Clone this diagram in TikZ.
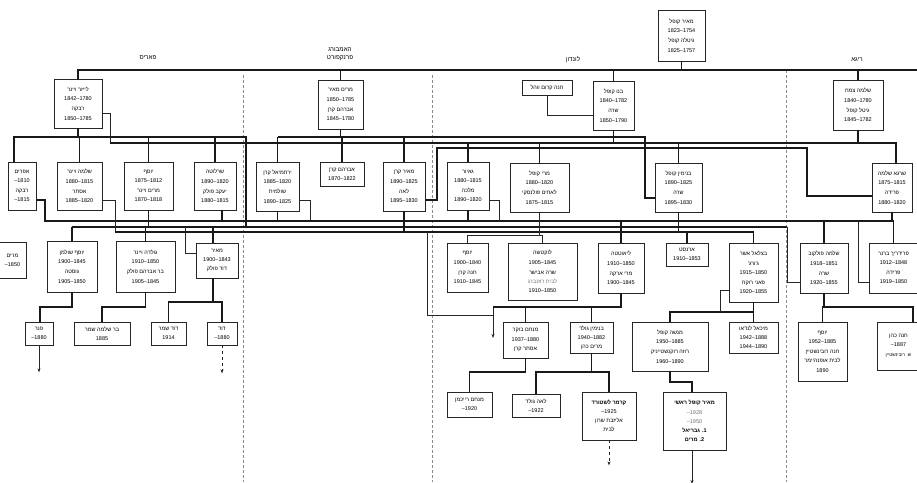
\documentclass[tikz,border=0pt]{standalone}
\usepackage{fontspec}
\usetikzlibrary{arrows.meta}
\newfontfamily\hebfont[Script=Hebrew]{Liberation Sans}
\TeXXeTstate=1
\newcommand\hbt[1]{\beginR #1\endR}
\newcommand\fambox[6]{\node[box, minimum width={(#4-#2)*1pt}, minimum height={(#5-#3)*1pt}] (#1) at ({(#2+#4)/2},{(#3+#5)/2}) {#6};}
\begin{document}
\begin{tikzpicture}[x=1pt,y=-1pt,
  box/.style={draw=black!85, fill=white, line width=0.7pt, inner sep=0.5pt, align=center,
    font=\hebfont\fontsize{5.5}{9.2}\selectfont},
  bus/.style={line width=1.5pt, black!90},
  ln/.style={line width=0.8pt, black!85},
  divider/.style={line width=0.5pt, black!45, dash pattern=on 3pt off 2pt},
  lbl/.style={font=\hebfont\fontsize{6.3}{8.5}\selectfont, align=center, inner sep=0.5pt},
  >={Stealth[length=4pt,width=3pt]}]
\useasboundingbox (0,0) rectangle (917,482);
\fill[white] (0,0) rectangle (917,482);
% section dividers
\draw[divider] (243,75) -- (243,482);
\draw[divider] (432,75) -- (432,482);
\draw[divider] (786,70) -- (786,482);
% place labels
\node[lbl] (lP) at (148,58) {\hbt{פאריס}};
\node[lbl] (lF) at (340,54) {\hbt{האמבורג}\\\hbt{פרנקפורט}};
\node[lbl] (lL) at (573,60) {\hbt{לונדון}};
\node[lbl] (lR) at (857,60) {\hbt{ריגא}};
% generation 0 and 1
\fambox{T}{658}{10}{705}{61}{\hbt{מאיר קופל}\\1754–1823\\[1pt]\hbt{גיטלה קופל}\\1757–1825}
\fambox{A}{54}{79}{102}{128}{\hbt{לייזר ויינר}\\1780–1842\\[1pt]\hbt{רבקה}\\1785–1850}
\fambox{B}{318}{80}{363}{129}{\hbt{מרים מאיר}\\1785–1850\\[1pt]\hbt{אברהם קרן}\\1780–1845}
\fambox{C}{593}{81}{634}{130}{\hbt{בנו קופל}\\1782–1840\\[1pt]\hbt{שרה}\\1790–1850}
\fambox{Cs}{522}{80}{572}{95}{\hbt{חנה קרום ווהל}}
\fambox{D}{833}{80}{883}{130}{\hbt{שלמה צמח}\\1780–1840\\[1pt]\hbt{גיטל קופל}\\1782–1845}
% generation 2
\fambox{E1}{8}{162}{36}{210}{\hbt{אפרים}\\1810–\\[1pt]\hbt{רבקה}\\1815–}
\fambox{E2}{57}{162}{102}{210}{\hbt{שלמה ויינר}\\1815–1880\\[1pt]\hbt{אסתר}\\1820–1885}
\fambox{E3}{124}{162}{173}{210}{\hbt{יוסף}\\1812–1875\\[1pt]\hbt{מרים ויינר}\\1818–1870}
\fambox{E4}{194}{162}{236}{210}{\hbt{שרלוטה}\\1820–1890\\[1pt]\hbt{יעקב פולק}\\1815–1880}
\fambox{F1}{256}{162}{299}{211}{\hbt{ירחמיאל קרן}\\1820–1885\\[1pt]\hbt{שולמית}\\1825–1890}
\fambox{F2}{320}{162}{364}{186}{\hbt{אברהם קרן}\\1822–1870}
\fambox{F3}{383}{162}{425}{211}{\hbt{מאיר קרן}\\1825–1890\\[1pt]\hbt{לאה}\\1830–1895}
\fambox{F4}{447}{162}{489}{210}{\hbt{גאיור}\\1815–1880\\[1pt]\hbt{מלכה}\\1820–1890}
\fambox{F5}{510}{163}{569}{212}{\hbt{מרי קופל}\\1820–1880\\[1pt]\hbt{לאחים פולנסקי}\\1815–1875}
\fambox{F6}{655}{163}{702}{212}{\hbt{בנימין קופל}\\1825–1890\\[1pt]\hbt{שרה}\\1830–1895}
\fambox{F7}{872}{163}{912}{212}{\hbt{שרגא שלמה}\\1815–1875\\[1pt]\hbt{פרידה}\\1820–1880}
% generation 3
\fambox{G0}{-1}{242}{26}{278}{\hbt{מרים}\\1850–}
\fambox{G1}{47}{241}{97}{292}{\hbt{יוסף שולמן}\\1845–1900\\[1pt]\hbt{גוסטה}\\1850–1905}
\fambox{G2}{116}{241}{175}{292}{\hbt{גולדה ויינר}\\1850–1910\\[1pt]\hbt{בר אברהם פולק}\\1845–1905}
\fambox{G3}{196}{243}{238}{278}{\hbt{מאיר}\\1843–1900\\\hbt{דוד פולק}}
\fambox{H1}{447}{243}{488}{292}{\hbt{יוסף}\\1840–1900\\[1pt]\hbt{חנה קרן}\\1845–1910}
\fambox{H2}{508}{243}{577}{300}{\hbt{לוקטשה}\\1845–1905\\[1pt]\hbt{שרה אבישר}\\{\color{black!55}\hbt{לבית רוזנברג}}\\1850–1910}
\fambox{H3}{598}{243}{644}{293}{\hbt{ליאוטטה}\\1850–1910\\[1pt]\hbt{מרי ארקה}\\1845–1900}
\fambox{H4}{666}{243}{708}{266}{\hbt{ארנסט}\\1853–1910}
\fambox{H5}{729}{243}{778}{302}{\hbt{בצלאל אשר}\\\hbt{ג'ורג'}\\1850–1915\\[1pt]\hbt{פאני רוקח}\\1855–1920}
\fambox{H6}{800}{243}{848}{293}{\hbt{שלמה פולקוב}\\1851–1918\\[1pt]\hbt{שרה}\\1855–1920}
\fambox{H7}{869}{243}{918}{293}{\hbt{פרידריך ברנר}\\1848–1912\\[1pt]\hbt{פרידה}\\1850–1919}
% generation 4
\fambox{I1}{25}{322}{53}{345}{\hbt{פנר}\\1880–}
\fambox{I2}{74}{322}{130}{345}{\hbt{בר שלמה שמר}\\1885}
\fambox{I3}{151}{322}{186}{345}{\hbt{דוד שמר}\\1914}
\fambox{I4}{207}{322}{237}{345}{\hbt{דוד}\\1880–}
\fambox{J1}{503}{322}{548}{358}{\hbt{מנחם בוקר}\\1880–1937\\\hbt{אסתר קרן}}
\fambox{J2}{570}{322}{613}{353}{\hbt{בנימין גולד}\\1882–1940\\\hbt{מרים כהן}}
\fambox{J3}{632}{322}{708}{371}{\hbt{מנשה קופל}\\1885–1950\\[1pt]\hbt{רוזה רוקנשטייניק}\\1890–1960}
\fambox{J4}{729}{322}{778}{353}{\hbt{מיכאל לנדאו}\\1888–1942\\1890–1944}
\fambox{J5}{798}{322}{847}{381}{\hbt{יוסף}\\1885–1952\\[1pt]\hbt{חנה רובינשטיין}\\\hbt{לבית אופנהיימר}\\1890}
\fambox{J6}{877}{322}{920}{370}{\hbt{חנה כהן}\\1887–\\[1pt]{\fontsize{4.6}{9.2}\selectfont\hbt{ש. רובינשטיין}}}
% generation 5
\fambox{K1}{447}{392}{492}{417}{\hbt{מנחם רייכמן}\\1920–}
\fambox{K2}{512}{394}{560}{417}{\hbt{לאה גולד}\\1922–}
\fambox{K3}{582}{392}{636}{440}{\textbf{\hbt{קרמר לשטורד}}\\1925–\\\hbt{אליזבת שרון}\\\hbt{לבית}}
\fambox{K4}{663}{392}{726}{450}{\textbf{\hbt{מאיר קופל ראשי}}\\{\color{black!55}1928–}\\{\color{black!55}1950–}\\\textbf{\hbt{1. גבריאל}}\\\textbf{\hbt{2. מרים}}}
% ---- connectors: generation 0/1
\draw[bus] (A.north) |- (920,70);
\foreach \nm in {B,C,D} \draw[bus] (\nm.north) -- (\nm.north |- 0,70);
\draw[bus] (T.south) -- (T.south |- 0,70);
\draw[ln] (Cs.south) |- (C.west |- 0,115);
% generation 1 -> 2
\draw[bus] (A.south) -- (A.south |- 0,137);
\draw[bus] (E1.north -| 14,0) -- (14,137) -- (246,137) -- (246,227);
\foreach \nm in {E2,E3,E4} \draw[bus] (\nm.north) -- (\nm.north |- 0,137);
\draw[ln] (A.east |- 0,113) -| (110,143);
\draw[bus] (110,143) -- (896,143) -- (F7.north -| 896,0);
\draw[bus] (D.south) -- (D.south |- 0,143);
\draw[bus] (C.south) -- (C.south |- 0,143);
\foreach \nm in {F4,F5,F6} \draw[bus] (\nm.north) -- (\nm.north |- 0,143);
\draw[bus] (B.south) -- (B.south |- 0,137);
\draw[bus] (F1.north |- 0,137) -- (645,137) -- (645,198) -- (F6.west |- 0,198);
\foreach \nm in {F1,F2,F3} \draw[bus] (\nm.north) -- (\nm.north |- 0,137);
\draw[bus] (F3.east |- 0,200) -- (437,200) -- (437,148) -- (807,148) -- (807,196) -- (F7.west |- 0,196);
% generation 2 -> 3
\draw[bus] (E1.east |- 0,200) -- (45,200) -- (45,221) -- (H7.north |- 0,221);
\draw[bus] (F7.south) -- (F7.south |- 0,221);
\foreach \nm in {H3,H6,H7} \draw[bus] (\nm.north) -- (\nm.north |- 0,221);
\draw[ln] (858,221) -- (858,282) -- (H7.west |- 0,282);
\draw[bus] (E3.south) -- (E3.south |- 0,227);
\draw[bus] (G1.north |- 0,227) -- (787,227);
\draw[ln] (787,227) -- (787,282) -- (H6.west |- 0,282);
\foreach \nm in {G1,G2} \draw[bus] (\nm.north) -- (\nm.north |- 0,227);
\draw[bus] (213,227) -- (G3.north -| 213,0);
\draw[ln] (185,227) -- (185,253) -- (G3.west |- 0,253);
\draw[bus] (E4.south -| 222,0) -- (222,221);
\draw[ln] (E2.east |- 0,200) -- (115,200) -- (115,232);
\draw[bus] (115,232) -- (H5.north |- 0,232);
\foreach \nm in {H4,H5} \draw[bus] (\nm.north) -- (\nm.north |- 0,232);
\draw[bus] (F6.south) -- (F6.south |- 0,232);
\draw[bus] (F3.south) -- (F3.south |- 0,232);
\draw[ln] (427,232) -- (427,315) -- (493,315);
\draw[ln] (F5.south) -- (F5.south |- 0,235);
\draw[ln] (H1.north |- 0,235) -- (H2.north |- 0,235);
\foreach \nm in {H1,H2} \draw[ln] (\nm.north) -- (\nm.north |- 0,235);
\draw[bus] (F1.south) -- (F1.south |- 0,221);
\draw[ln] (F1.east |- 0,200) -- (310,200) -- (310,221);
\draw[bus] (F4.south) -- (F4.south |- 0,221);
\draw[ln] (F4.east |- 0,200) -- (499,200) -- (499,221);
% generation 3 -> 4
\draw[bus] (G1.south) |- (40,307) -- (I1.north -| 40,0);
\draw[bus] (G2.south) |- (I2.north |- 0,307) -- (I2.north);
\draw[bus] (G3.south -| 213,0) -- (213,302);
\draw[bus] (I3.north) |- (I4.north |- 0,302) -- (I4.north);
\draw[bus] (H3.south) -- (H3.south |- 0,307) -- (493,307);
\draw[ln,->] (493,307) -- (493,338);
\foreach \nm in {J1,J2} \draw[bus] (\nm.north) -- (\nm.north |- 0,307);
\draw[bus] (H5.south) -- (H5.south |- 0,312);
\draw[bus] (J3.north) |- (J4.north |- 0,312) -- (J4.north);
\draw[ln] (H5.west |- 0,290) -- (720,290) -- (720,312);
\draw[bus] (H6.south) -- (H6.south |- 0,307);
\draw[bus] (J5.north) |- (913,307) -- (J6.north -| 913,0);
% generation 4 -> 5
\draw[bus] (J1.south) -- (J1.south |- 0,372) -- (K1.north |- 0,372) -- (K1.north);
\draw[bus] (J2.south) -- (J2.south |- 0,372);
\draw[bus] (K2.north) |- (K3.north |- 0,372) -- (K3.north);
\draw[bus] (J3.south) |- (692,382) -- (K4.north -| 692,0);
% continuation arrows
\draw[ln,dashed,->] (K3.south) -- ++(0,25);
\draw[ln,->] (K4.south -| 692,0) -- (692,484);
\draw[ln,->] (I1.south) -- ++(0,27);
\draw[ln,dashed,->] (I4.south) -- ++(0,28);
\end{tikzpicture}
\end{document}
